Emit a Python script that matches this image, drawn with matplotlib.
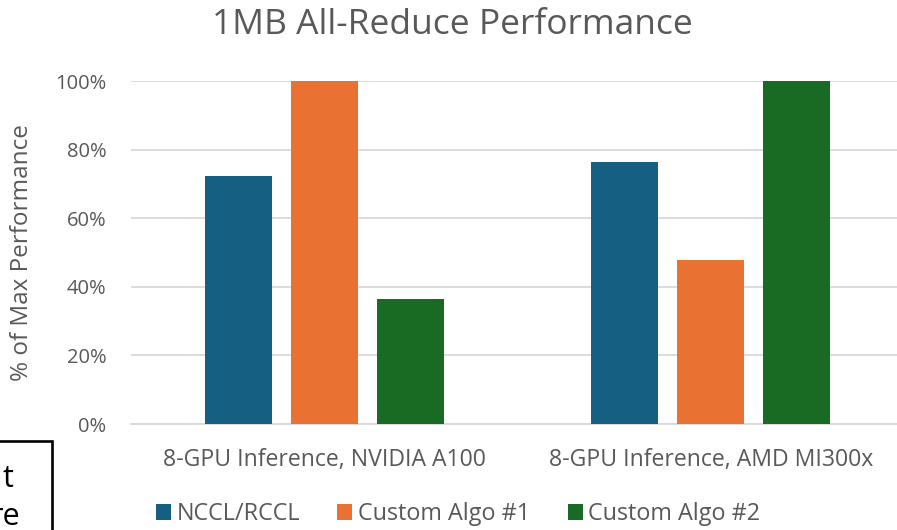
import numpy as np
import matplotlib.pyplot as plt
from matplotlib.patches import Rectangle, Patch
from matplotlib.ticker import PercentFormatter

plt.rcParams['font.family'] = ['Open Sans', 'DejaVu Sans']

# Normalised throughput per platform (fraction of the best algorithm)
platforms = ['8-GPU Inference, NVIDIA A100', '8-GPU Inference, AMD MI300x']
series = ['NCCL/RCCL', 'Custom Algo #1', 'Custom Algo #2']
nccl = [0.722, 0.765]
algo1 = [1.0, 0.477]
algo2 = [0.364, 1.0]
colors = ['#156082', '#E97132', '#196B24']

text_gray = '#595959'
grid_gray = '#D9D9D9'

W, H = 897, 530
fig = plt.figure(figsize=(W / 100, H / 100), dpi=100)

# plot area in pixels: left 131, right 904 (runs past the canvas), 0% at y=424, 100% at y=81
ax = fig.add_axes([131.25 / W, (H - 424) / H, 772.75 / W, 343 / H])

x = np.arange(len(platforms))
bar_w = 0.1735
step = 0.2225
for i, (vals, c) in enumerate(zip([nccl, algo1, algo2], colors)):
    ax.bar(x + (i - 1) * step, vals, width=bar_w, color=c, zorder=3)

ax.set_xlim(-0.5, 1.5)
ax.set_ylim(0, 1.0)
ax.set_yticks(np.arange(0, 1.01, 0.2))
ax.yaxis.set_major_formatter(PercentFormatter(1.0, decimals=0))
ax.grid(axis='y', color=grid_gray, linewidth=1.3, zorder=0)
ax.set_axisbelow(True)
for s in ['top', 'right', 'left']:
    ax.spines[s].set_visible(False)
ax.spines['bottom'].set_color(grid_gray)
ax.spines['bottom'].set_linewidth(1.3)
ax.spines['bottom'].set_zorder(1)

ax.set_xticks(x)
ax.set_xticklabels(platforms)
ax.tick_params(axis='both', length=0, labelcolor=text_gray)
ax.tick_params(axis='y', pad=18, labelsize=14.5)
ax.tick_params(axis='x', pad=17, labelsize=16.6)

ax.set_ylabel('% of Max Performance', fontsize=17.5, color=text_gray)
ax.yaxis.set_label_coords(-97 / 772.75, 0.5)

fig.text(452.5 / W, 1 - 25 / H, '1MB All-Reduce Performance', ha='center', va='center',
         fontsize=25.5, color=text_gray)

handles = [Patch(facecolor=c, label=s) for c, s in zip(colors, series)]
fig.legend(handles=handles, loc='center', bbox_to_anchor=(458 / W, 1 - 514 / H), ncol=3,
           frameon=False, fontsize=16.8, labelcolor=text_gray, handlelength=0.64,
           handleheight=0.64, handletextpad=0.25, columnspacing=1.6)

# neighbouring text box, cut off at the left edge
fig.patches.append(Rectangle((-10 / W, -20 / H), 62 / W, (H - 441 + 20) / H,
                             transform=fig.transFigure, fill=False, edgecolor='black',
                             linewidth=1.9))
fig.text(13 / W, 1 - 487 / H, 't', ha='right', va='baseline', fontsize=22, color='black')
fig.text(20 / W, 1 - 525 / H, 're', ha='right', va='baseline', fontsize=22, color='black')

fig.savefig('out.png', dpi=100)
